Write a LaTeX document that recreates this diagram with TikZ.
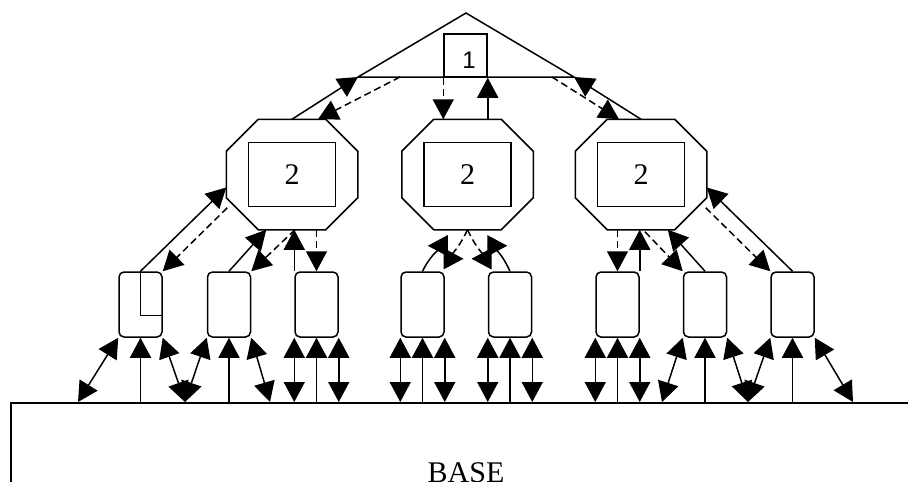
\documentclass[tikz,border=0pt]{standalone}
\usepackage{fontspec}
\setmainfont{Liberation Serif}
\newfontfamily\onefont{Liberation Sans}
\usetikzlibrary{arrows.meta,calc,positioning}

\begin{document}
\begin{tikzpicture}[
    x=1pt, y=-1pt,
    line width=1.5pt,
    node distance=44pt,
    >={Triangle[length=20pt,width=21pt]},
    leaf/.style={rectangle, draw, rounded corners=5pt, minimum width=43pt, minimum height=65pt, inner sep=0pt},
    core/.style={rectangle, draw, minimum width=87pt, minimum height=64pt, inner sep=0pt, font=\fontsize{30}{32}\selectfont},
    octo/.style={rectangle, minimum width=130pt, minimum height=109pt, inner sep=0pt},
    arrow/.style={->},
    darrow/.style={->, dash pattern=on 7pt off 4pt},
    both/.style={<->}
]
\clip (0,0) rectangle (908,482);

% Top: triangle with box 1
\coordinate (apex) at (466,13);
\coordinate (tl) at (358,77);
\coordinate (tr) at (574,77);
\coordinate (t1) at (400,77);
\coordinate (t2) at (552,77);
\draw (tl) -- (apex) -- (tr) -- cycle;
\node[draw, minimum size=43pt, inner sep=0pt, font=\onefont\fontsize{24}{26}\selectfont] (top) at (465.5,55.5) {\hspace{7pt}\raisebox{-13pt}[0pt][0pt]{1}};

% Middle row: octagons with box 2
\node[octo] (o1) at (292,174.5) {};
\node[octo, right=of o1] (o2) {};
\node[octo, right=42pt of o2] (o3) {};
\foreach \o in {o1,o2,o3} {
  \draw ($(\o.north west)+(32,0)$) -- ($(\o.north east)+(-32,0)$) -- ($(\o.north east)+(0,32)$)
    -- ($(\o.south east)+(0,-32)$) -- ($(\o.south east)+(-32,0)$) -- ($(\o.south west)+(32,0)$)
    -- ($(\o.south west)+(0,-32)$) -- ($(\o.north west)+(0,32)$) -- cycle;
  \node[core] (r\o) at (\o.center) {2};
}

% Bottom row: small boxes
\node[leaf] (b1) at (140.5,304.5) {};
\node[leaf, right=of b1] (b2) {};
\node[leaf, right=43pt of b2] (b3) {};
\node[leaf] (b4) at (422.5,304.5) {};
\node[leaf, right=43pt of b4] (b5) {};
\node[leaf] (b6) at (617.5,304.5) {};
\node[leaf, right=43pt of b6] (b7) {};
\node[leaf, right=43pt of b7] (b8) {};
\draw (b1.north) -- ($(b1.north)+(0,44)$) -- ($(b1.north east)+(0,44)$);

% Base
\node[draw, line width=1.8pt, minimum width=1000pt, minimum height=200pt, anchor=north west] (base) at (10,402) {};
\node[anchor=base, inner sep=0pt, font=\fontsize{30}{32}\selectfont] (basetext) at (466,482) {BASE};
\coordinate (g1) at (78,402);
\coordinate (g2) at (185,402);
\coordinate (g3) at (270,402);
\coordinate (g4) at (662,402);
\coordinate (g5) at (748,402);
\coordinate (g6) at (853,402);

% Arrows - triangle to octagons
\draw[arrow] (o1.north) -- (tl);
\draw[darrow] (t1) -- ($(o1.north)+(26,0)$);
\draw[darrow] (top.south west) -- (top.south west |- o2.north);
\draw[arrow] (top.south east |- o2.north) -- (top.south east);
\draw[darrow] (t2) -- ($(o3.north)+(-22,0)$);
\draw[arrow] (o3.north) -- (tr);

% Arrows - left octagon
\draw[arrow] (b1.north) -- ($(o1.west)+(0,13)$);
\draw[darrow] ($(o1.south west)+(1,-22)$) -- (b1.north east);
\draw[arrow] (b2.north) -- ($(o1.south west)+(40,0)$);
\draw[darrow] ($(o1.south)+(3,0)$) -- (b2.north east);
\draw[arrow] (b3.north west) -- (b3.north west |- o1.south);
\draw[darrow] (b3.north |- o1.south) -- (b3.north);

% Arrows - middle octagon
\draw[arrow] (b4.north) to[out=65,in=0] ($(o2.south west)+(26,16)$);
\draw[darrow] (o2.south) to[out=245,in=180] ($(o2.south)+(-4,29)$);
\draw[darrow] (o2.south) to[out=295,in=0] ($(o2.south)+(4,29)$);
\draw[arrow] (b5.north) to[out=115,in=180] ($(o2.south east)+(-26,16)$);

% Arrows - right octagon
\draw[darrow] (b6.north |- o3.south) -- (b6.north);
\draw[arrow] (b6.north east) -- (b6.north east |- o3.south);
\draw[darrow] ($(o3.south)+(4,2)$) -- (b7.north west);
\draw[arrow] (b7.north) -- ($(o3.south east)+(-39,0)$);
\draw[darrow] ($(o3.south east)+(-1,-22)$) -- (b8.north west);
\draw[arrow] (b8.north) -- ($(o3.east)+(0,13)$);

% Arrows - boxes to base
\draw[both] (b1.south west) -- (g1);
\draw[arrow] (b1.south |- base.north) -- (b1.south);
\draw[both] (b1.south east) -- (g2);
\draw[both] (b2.south west) -- (g2);
\draw[arrow] (b2.south |- base.north) -- (b2.south);
\draw[both] (b2.south east) -- (g3);
\foreach \b in {b3,b4,b5,b6} {
  \draw[both] (\b.south west) -- (\b.south west |- base.north);
  \draw[arrow] (\b.south |- base.north) -- (\b.south);
  \draw[both] (\b.south east) -- (\b.south east |- base.north);
}
\draw[both] (b7.south west) -- (g4);
\draw[arrow] (b7.south |- base.north) -- (b7.south);
\draw[both] (b7.south east) -- (g5);
\draw[both] (b8.south west) -- (g5);
\draw[arrow] (b8.south |- base.north) -- (b8.south);
\draw[both] (b8.south east) -- (g6);

\end{tikzpicture}
\end{document}
